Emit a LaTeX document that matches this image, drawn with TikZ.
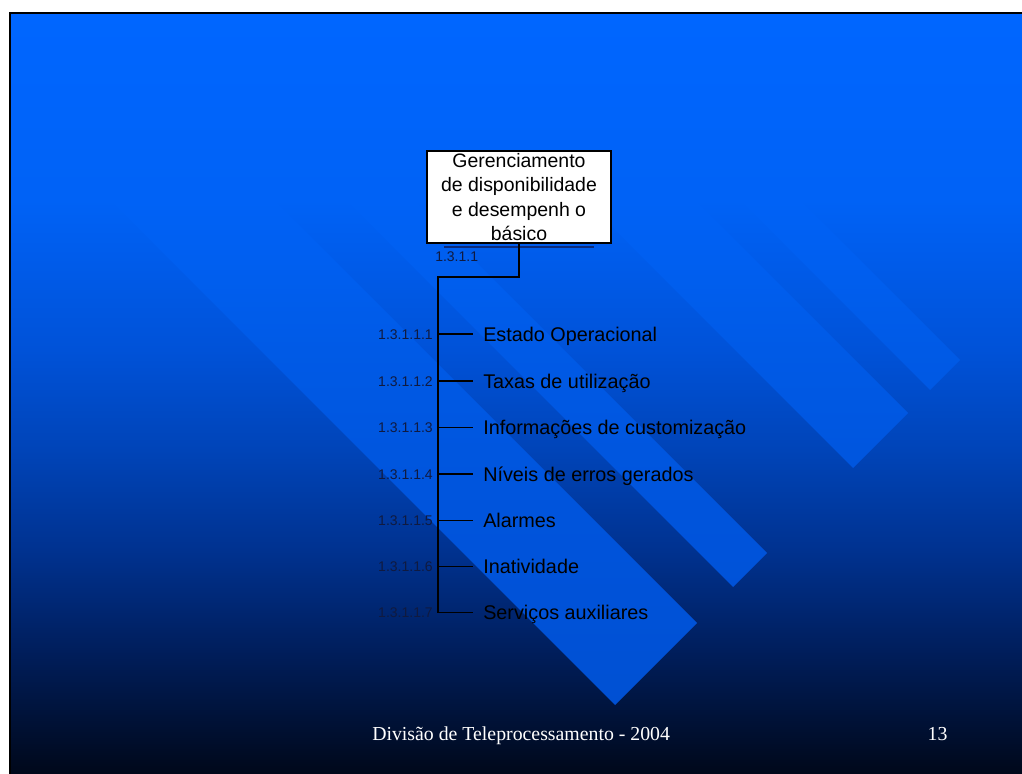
\documentclass[tikz,border=0pt]{standalone}
\usepackage{fontspec}
\newfontfamily\sansf{Liberation Sans}
\newfontfamily\seriff{Liberation Serif}

% slide background: bright blue at the top, almost black at the bottom
\definecolor{bgA}{HTML}{0066FF}
\definecolor{bgB}{HTML}{0062F6}
\definecolor{bgC}{HTML}{0052D8}
\definecolor{bgD}{HTML}{0044B8}
\definecolor{bgE}{HTML}{003290}
\definecolor{bgF}{HTML}{001E5C}
\definecolor{bgG}{HTML}{00081A}
% diagonal ribbons, equal to the background at the top and lighter below
\definecolor{rbA}{HTML}{0066FF}
\definecolor{rbB}{HTML}{0062F6}
\definecolor{rbC}{HTML}{005EEE}
\definecolor{rbD}{HTML}{005AE6}
\definecolor{rbE}{HTML}{0056DF}
\definecolor{rbF}{HTML}{0053DA}
\definecolor{rbG}{HTML}{004FD0}
\definecolor{numcol}{HTML}{101A40}
\definecolor{shadowcol}{HTML}{0B2A7A}

\pgfdeclareverticalshading{slidebg}{100bp}{color(0bp)=(bgG); color(25bp)=(bgG);
  color(33.14bp)=(bgF); color(39.72bp)=(bgE); color(46.29bp)=(bgD);
  color(52.86bp)=(bgC); color(62.71bp)=(bgB); color(75bp)=(bgA); color(100bp)=(bgA)}
\pgfdeclareverticalshading{ribbon}{100bp}{color(0bp)=(rbG); color(25bp)=(rbG);
  color(39.72bp)=(rbF); color(46.29bp)=(rbE); color(52.86bp)=(rbD);
  color(57.46bp)=(rbC); color(62.71bp)=(rbB); color(75bp)=(rbA); color(100bp)=(rbA)}

\begin{document}
\begin{tikzpicture}[x=0.75pt,y=-0.75pt,
  conn/.style={draw=black,line width=1.4pt},
  rootbox/.style={draw=black,fill=white,line width=1.5pt,minimum width=138pt,
    minimum height=69pt,inner sep=0pt,align=center,
    font=\sansf\fontsize{14.6pt}{18.4pt}\selectfont},
  item/.style={anchor=base west,inner sep=0pt,text=black,
    font=\sansf\fontsize{14.85pt}{17pt}\selectfont},
  num/.style={inner sep=0pt,text=numcol,font=\sansf\fontsize{10.5pt}{12pt}\selectfont},
  foot/.style={inner sep=0pt,text=white,font=\seriff\fontsize{14.85pt}{17pt}\selectfont}]
\useasboundingbox (0,0) rectangle (1022,774);
\fill[white] (0,0) rectangle (1022,774);

% background
\shade[shading=slidebg] (10,13) rectangle (1022,774);

% ribbons
\begin{scope}
  \clip (40,130) -- (122,48) -- (697,623) -- (615,705) -- cycle
        (246,100) -- (280,66) -- (767,553) -- (733,587) -- cycle
        (485,100) -- (540,45) -- (908,413) -- (853,468) -- cycle
        (650,110) -- (680,80) -- (960,360) -- (930,390) -- cycle;
  \shade[shading=ribbon] (10,13) rectangle (1022,774);
\end{scope}

% slide frame
\draw[black,line width=1.1pt] (10,774) -- (10,13) -- (1022,13);

% root of the tree
\node[rootbox] (root) at (519,197) {Gerenciamento\\de disponibilidade\\e desempenh o\\básico};
\draw[shadowcol,line width=1.3pt] ([xshift=13.5pt,yshift=-2.5pt]root.south west)
  -- ([xshift=-13.5pt,yshift=-2.5pt]root.south east);
\node[num,anchor=base west] (rootnum) at (435,261) {1.3.1.1};

% trunk
\coordinate (corner) at (438,276.7);
\coordinate (j7) at (438,612.5);
\draw[conn] (root.south) |- (corner) -- (j7);

% leaves
\foreach \i/\y/\txt in {1/334/Estado Operacional,
                        2/381/Taxas de utilização,
                        3/427.5/Informações de customização,
                        4/474/Níveis de erros gerados,
                        5/520.5/Alarmes,
                        6/566.5/Inatividade,
                        7/612.5/Serviços auxiliares}{
  \coordinate (j\i) at (438,\y);
  \node[item] (it\i) at (483,\y+7) {\txt};
  \node[num,anchor=base east] (n\i) at (433,\y+5) {1.3.1.1.\i};
  \draw[conn] (j\i) -- ([xshift=-7.5pt]j\i -| it\i.west);
}

% footer
\node[foot,anchor=base west] (ft) at (372,740) {Divisão de Teleprocessamento - 2004};
\node[foot,anchor=base] (pg) at (937.5,740) {13};
\end{tikzpicture}
\end{document}
